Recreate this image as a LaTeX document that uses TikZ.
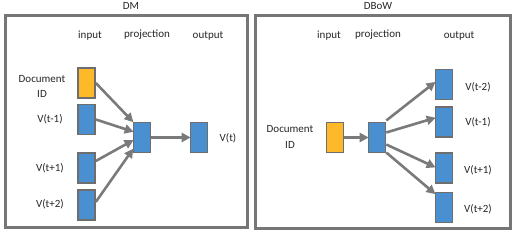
\documentclass[tikz,border=0pt]{standalone}
\usepackage{fontspec}
\setmainfont{Carlito}
\usetikzlibrary{arrows.meta,calc}
\definecolor{framegray}{HTML}{767676}
\definecolor{boxblue}{HTML}{4A90D0}
\definecolor{boxyellow}{HTML}{FDB92A}
\definecolor{arrowgray}{HTML}{7A7A7A}
\definecolor{edgegray}{HTML}{6E6E6E}
\tikzset{
  panel/.style={draw=framegray,line width=3pt},
  vec/.style={draw=edgegray,line width=1.6pt,fill=boxblue,minimum width=17pt,minimum height=30pt,inner sep=0pt},
  docvec/.style={vec,fill=boxyellow},
  lbl/.style={font=\fontsize{11}{13}\selectfont,text=black!85,inner sep=0pt},
  conn/.style={draw=arrowgray,line width=2.6pt,-{Triangle[length=9pt,width=9pt]},shorten >=-1pt}
}
\begin{document}
\begin{tikzpicture}[x=1pt,y=-1pt]
\useasboundingbox (0,0) rectangle (514,237);
% panels
\draw[panel] (5.5,15.5) rectangle (247,227.5);
\draw[panel] (255,15.5) rectangle (510,229);
\node[lbl] (tdm) at (131,6) {DM};
\node[lbl] (tdb) at (378,6) {DBoW};
% DM headers
\node[lbl] (hin1) at (90,36) {input};
\node[lbl] (hpr1) at (147,35) {projection};
\node[lbl] (hout1) at (208,36) {output};
% DM vectors
\node[docvec] (doc1) at (86.5,83) {};
\node[vec] (vm1) at (86.5,119.5) {};
\node[vec] (vp1) at (86.5,168) {};
\node[vec] (vp2) at (86.5,205) {};
\node[vec] (proj1) at (142,137.5) {};
\node[vec] (out1) at (199,137.5) {};
% DM labels
\node[lbl] (ldoc1) at (42,79) {Document};
\node[lbl] (lid1) at (42,94) {ID};
\node[lbl] (lm1) at (50,119) {V(t-1)};
\node[lbl] (lp1) at (50,168) {V(t+1)};
\node[lbl] (lp2) at (50,204) {V(t+2)};
\node[lbl] (lt) at (228,138) {V(t)};
% DM arrows
\draw[conn] (doc1.east) -- ($(proj1.west)+(0,-16)$);
\draw[conn] (vm1.east) -- ($(proj1.west)+(0,-6)$);
\draw[conn] ($(vp1.east)+(0,-7)$) -- ($(proj1.west)+(0,3)$);
\draw[conn] ($(vp2.east)+(0,-3)$) -- ($(proj1.west)+(0,12)$);
\draw[conn] (proj1.east) -- (out1.west);
% DBoW headers
\node[lbl] (hin2) at (329,36) {input};
\node[lbl] (hpr2) at (378,35) {projection};
\node[lbl] (hout2) at (459,36) {output};
% DBoW vectors
\node[docvec] (doc2) at (335,137.5) {};
\node[vec] (proj2) at (377,137.5) {};
\node[vec] (om2) at (444,84.5) {};
\node[vec] (om1) at (444,122) {};
\node[vec] (op1) at (444,168) {};
\node[vec] (op2) at (444,207.5) {};
% DBoW labels
\node[lbl] (ldoc2) at (290,129) {Document};
\node[lbl] (lid2) at (290,145) {ID};
\node[lbl] (lm2b) at (478,87) {V(t-2)};
\node[lbl] (lm1b) at (478,122) {V(t-1)};
\node[lbl] (lp1b) at (478,170) {V(t+1)};
\node[lbl] (lp2b) at (478,209) {V(t+2)};
% DBoW arrows
\draw[conn] (doc2.east) -- (proj2.west);
\draw[conn] ($(proj2.east)+(0,-17)$) -- ($(om2.west)+(0,-2)$);
\draw[conn] ($(proj2.east)+(0,-5)$) -- ($(om1.west)+(0,-4)$);
\draw[conn] ($(proj2.east)+(0,7)$) -- ($(op1.west)+(0,-1)$);
\draw[conn] ($(proj2.east)+(0,15)$) -- ($(op2.west)+(0,-14)$);
\end{tikzpicture}
\end{document}
